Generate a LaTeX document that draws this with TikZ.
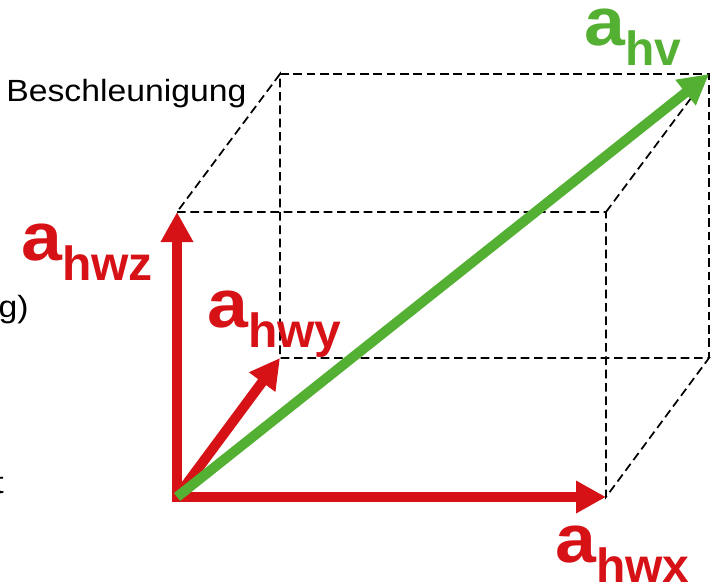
\documentclass[tikz,border=0pt]{standalone}
\usepackage{fontspec}
\setmainfont{Liberation Sans}
\usepackage{tikz}
\usetikzlibrary{arrows.meta}
\definecolor{accred}{RGB}{214,18,23}
\definecolor{accgreen}{RGB}{84,176,50}
\newcommand{\accsym}[1]{\scalebox{1.08}[1]{a}\raisebox{-15pt}{\fontsize{36}{36}\selectfont #1}}

\begin{document}
\begin{tikzpicture}[
    x=0.75pt, y=-0.75pt,
    >={Triangle[length=22.5pt,width=23pt]},
    edge/.style={draw, dash pattern=on 6.5pt off 3.5pt, line width=1.3pt},
    vec/.style={->, line width=7.5pt},
    caption/.style={inner sep=0pt, xscale=1.1, font=\fontsize{23}{23}\selectfont},
    acclabel/.style={inner sep=0pt, anchor=base west, font=\bfseries\fontsize{51}{51}\selectfont}
  ]
  \useasboundingbox (0,0) rectangle (717,587);

  % corners of the box
  \coordinate (O)   at (177,497);
  \coordinate (X)   at (606,497);
  \coordinate (Z)   at (177,212);
  \coordinate (Y)   at (280,358);
  \coordinate (XZ)  at (606,212);
  \coordinate (YZ)  at (280,74);
  \coordinate (XY)  at (709,358);
  \coordinate (XYZ) at (709,74);

  \draw[edge] (Z) -- (XZ) -- (X) -- (XY) -- (Y) -- (YZ) -- (Z);
  \draw[edge] (YZ) -- (XYZ) -- (XY);
  \draw[edge] (XZ) -- (XYZ);

  % components and resulting vector
  \draw[vec, accred, shorten <=-3.75pt] (O) -- (X);
  \draw[vec, accred, shorten <=-3.75pt] (O) -- (Z);
  \draw[vec, accred] (O) -- (Y);
  \draw[vec, accgreen] (O) -- (XYZ);

  \node[acclabel, accred]   (lx) at (555,562) {\accsym{hwx}};
  \node[acclabel, accred]   (ly) at (207,327) {\accsym{hwy}};
  \node[acclabel, accred]   (lz) at (21,260)  {\accsym{hwz}};
  \node[acclabel, accgreen] (lv) at (584,45)  {\accsym{hv}};

  % cut-off texts on the left
  \node[caption, anchor=base west] (title) at (6,101) {Beschleunigung};
  \node[caption, anchor=base east] (rest1) at (29,317) {g)};
  \node[caption, anchor=base east] (rest2) at (4,493)  {t};
\end{tikzpicture}
\end{document}
